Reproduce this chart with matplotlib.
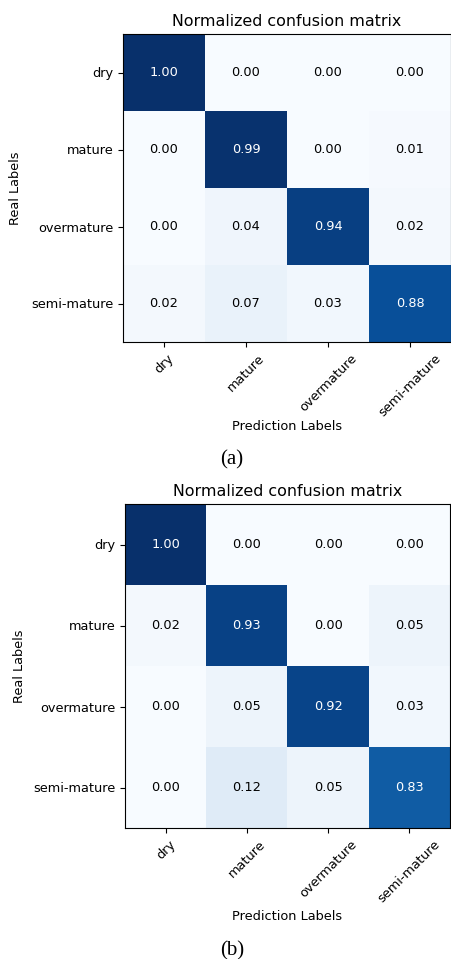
import numpy as np
import matplotlib
matplotlib.use('Agg')
import matplotlib.pyplot as plt

CLASSES = ['dry', 'mature', 'overmature', 'semi-mature']

# normalized confusion matrices (rows = real, cols = predicted)
CM_A = [[1.00, 0.00, 0.00, 0.00],
        [0.00, 0.99, 0.00, 0.01],
        [0.00, 0.04, 0.94, 0.02],
        [0.02, 0.07, 0.03, 0.88]]
CM_B = [[1.00, 0.00, 0.00, 0.00],
        [0.02, 0.93, 0.00, 0.05],
        [0.00, 0.05, 0.92, 0.03],
        [0.00, 0.12, 0.05, 0.83]]
CAPTIONS = ['(a)', '(b)']

W, H = 451, 959
FS = 9.3

fig = plt.figure(figsize=(W / 100, H / 100), dpi=100)

# per panel, in pixels: axes box (left, top, right, bottom),
# xlabel offset below axes, ylabel right edge, caption centre y
PANELS = [((123, 34, 451, 342), 78, 22, 460),
          ((125, 504, 450, 828), 82, 26, 951)]


def draw_cm(ax, cm):
    cm = np.asarray(cm)
    ax.imshow(cm, interpolation='nearest', cmap='Blues', vmin=0, vmax=1,
              aspect='auto')
    ax.set_title('Normalized confusion matrix', fontsize=11.4)
    ticks = np.arange(len(CLASSES))
    ax.set_xticks(ticks)
    ax.set_xticklabels(CLASSES, rotation=45, fontsize=FS)
    ax.set_yticks(ticks)
    ax.set_yticklabels(CLASSES, fontsize=FS)
    thresh = cm.max() / 2.
    for i in range(cm.shape[0]):
        for j in range(cm.shape[1]):
            ax.text(j, i, format(cm[i, j], '.2f'), ha='center', va='center',
                    fontsize=FS,
                    color='white' if cm[i, j] > thresh else 'black')
    ax.set_ylabel('Real Labels', fontsize=FS)
    ax.set_xlabel('Prediction Labels', fontsize=FS)


for cm, cap, ((l, t, r, b), xl_off, yl_x, cy) in zip([CM_A, CM_B], CAPTIONS, PANELS):
    ax = fig.add_axes([l / W, 1 - b / H, (r - l) / W, (b - t) / H])
    draw_cm(ax, cm)
    ax.xaxis.set_label_coords(0.5, -xl_off / (b - t))
    ax.yaxis.set_label_coords(-(l - yl_x) / (r - l), 0.5)
    fig.text(232 / W, 1 - cy / H, cap, ha='center', va='center',
             fontsize=15, family='Liberation Serif')

fig.savefig('out.png', dpi=100)
